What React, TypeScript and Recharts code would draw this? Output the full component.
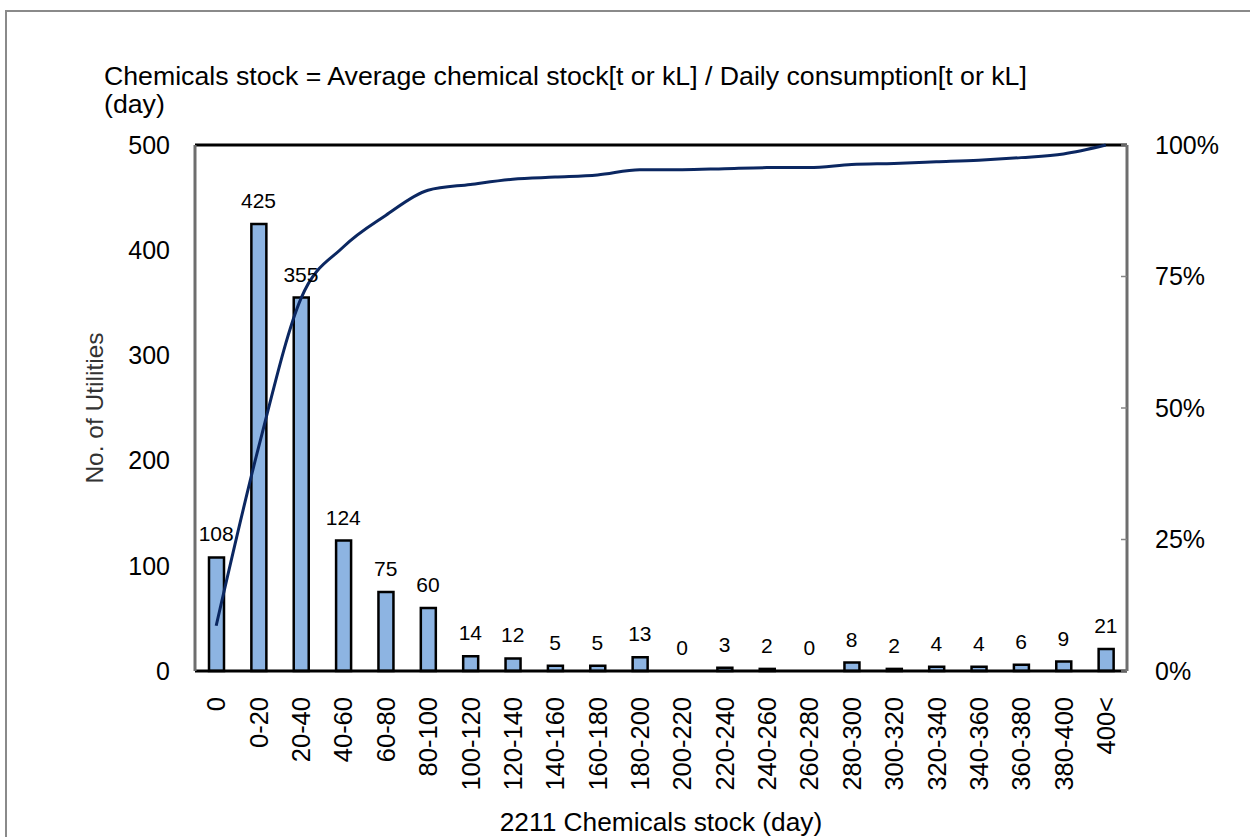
import {
  Bar,
  CartesianGrid,
  ComposedChart,
  Label,
  LabelList,
  Line,
  ReferenceLine,
  XAxis,
  YAxis,
} from "recharts";

const CATEGORIES = [
  "0", "0-20", "20-40", "40-60", "60-80", "80-100", "100-120", "120-140",
  "140-160", "160-180", "180-200", "200-220", "220-240", "240-260",
  "260-280", "280-300", "300-320", "320-340", "340-360", "360-380",
  "380-400", "400<",
];

const UTILITIES = [
  108, 425, 355, 124, 75, 60, 14, 12, 5, 5, 13, 0, 3, 2, 0, 8, 2, 4, 4, 6, 9, 21,
];

// cumulative share (%) as drawn by the line
const CUMULATIVE_PCT = [
  8.6, 42.5, 70.8, 80.6, 86.6, 91.4, 92.5, 93.5, 93.9, 94.3, 95.3, 95.3, 95.5,
  95.7, 95.7, 96.3, 96.5, 96.8, 97.1, 97.6, 98.3, 100,
];

const LEFT_TICKS = [0, 100, 200, 300, 400, 500];
const RIGHT_TICKS = [0, 25, 50, 75, 100];

const data = CATEGORIES.map((range, i) => ({
  range,
  count: UTILITIES[i],
  cum: CUMULATIVE_PCT[i],
}));

const FONT = "'Liberation Sans', Arial, sans-serif";

function RotatedTick({ x, y, payload }: any) {
  return (
    <g transform={`translate(${x},${y})`}>
      <text
        transform="rotate(-90)"
        x={-26}
        dy="0.36em"
        textAnchor="end"
        fontSize={25.5}
        fill="#000"
      >
        {payload.value}
      </text>
    </g>
  );
}

export default function App() {
  return (
    <div
      style={{
        position: "absolute",
        left: 0,
        top: 0,
        width: 1250,
        height: 837,
        overflow: "hidden",
        background: "#fff",
        fontFamily: FONT,
        color: "#000",
      }}
    >
      <div
        style={{
          position: "absolute",
          left: 5,
          top: 10,
          width: 1260,
          height: 840,
          border: "2px solid #8a8a8a",
        }}
      />
      <div
        style={{
          position: "absolute",
          left: 104,
          top: 62,
          fontSize: 26.7,
          lineHeight: "28px",
          whiteSpace: "nowrap",
        }}
      >
        <div>
          Chemicals stock = Average chemical stock[t or kL] / Daily
          consumption[t or kL]
        </div>
        <div>(day)</div>
      </div>
      <div style={{ position: "absolute", left: 0, top: 0 }}>
        <ComposedChart
          width={1250}
          height={837}
          data={data}
          margin={{ top: 145, right: 0, bottom: 0, left: 0 }}
          barCategoryGap={0}
        >
          <CartesianGrid vertical={false} stroke="#868686" strokeWidth={1.5} />
          <XAxis
            dataKey="range"
            height={166}
            interval={0}
            tick={<RotatedTick />}
            tickLine={false}
            tickSize={0}
            tickMargin={0}
            axisLine={{ stroke: "#000", strokeWidth: 3 }}
          >
            <Label
              value="2211 Chemicals stock (day)"
              position="insideBottom"
              offset={6}
              fontSize={26.3}
              fill="#000"
            />
          </XAxis>
          <YAxis
            yAxisId="left"
            width={195}
            domain={[0, 500]}
            ticks={LEFT_TICKS}
            tickLine={false}
            tickSize={0}
            tickMargin={25}
            axisLine={{ stroke: "#6e6e6e", strokeWidth: 3 }}
            tick={{ fontSize: 25, fill: "#000" }}
          >
            <Label
              value="No. of Utilities"
              angle={-90}
              position="center"
              dx={-3}
              fontSize={24.5}
              fill="#333"
            />
          </YAxis>
          <YAxis
            yAxisId="right"
            orientation="right"
            width={123}
            domain={[0, 100]}
            ticks={RIGHT_TICKS}
            tickFormatter={(v: number) => `${v}%`}
            tickSize={-6}
            tickMargin={34}
            tickLine={{ stroke: "#868686", strokeWidth: 1.5 }}
            axisLine={{ stroke: "#6e6e6e", strokeWidth: 3 }}
            tick={{ fontSize: 25, fill: "#000" }}
          />
          <ReferenceLine
            yAxisId="left"
            y={500}
            stroke="#000"
            strokeWidth={3}
            ifOverflow="visible"
          />
          <Bar
            yAxisId="left"
            dataKey="count"
            barSize={15}
            fill="#8db4e2"
            stroke="#000"
            strokeWidth={2.5}
            isAnimationActive={false}
          />
          {/* invisible carrier so zero-count categories still get their label */}
          <Line
            yAxisId="left"
            dataKey="count"
            stroke="none"
            dot={false}
            activeDot={false}
            legendType="none"
            isAnimationActive={false}
          >
            <LabelList
              dataKey="count"
              position="top"
              offset={16}
              fontSize={21}
              fill="#000"
            />
          </Line>
          <Line
            yAxisId="right"
            dataKey="cum"
            type="monotone"
            stroke="#0b2761"
            strokeWidth={3}
            dot={false}
            activeDot={false}
            isAnimationActive={false}
          />
        </ComposedChart>
      </div>
    </div>
  );
}
